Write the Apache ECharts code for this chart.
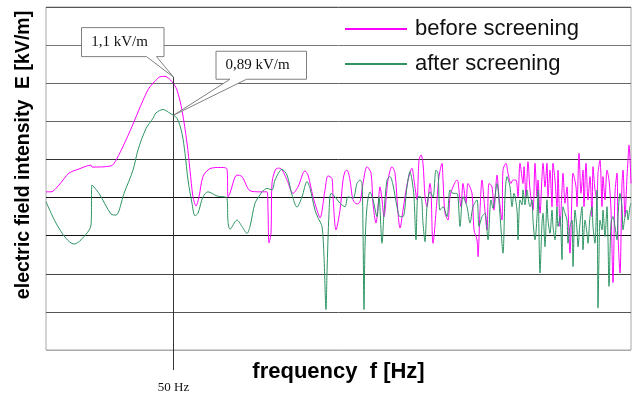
<!DOCTYPE html>
<html>
<head>
<meta charset="utf-8">
<script src="https://cdn.jsdelivr.net/npm/echarts@6/dist/echarts.min.js"></script>
<style>
html, body { margin: 0; padding: 0; background: #fff; }
#chart { width: 632px; height: 397px; }
</style>
</head>
<body>
<div id="chart"></div>
<script>
// field spectrum, frequency axis in relative units (0..585), field in grid units (0..9)
var beforeScreening = [[0,4.15],[5,4.15],[13,4.33],[23,4.64],[33,4.75],[45,4.85],[46,4.80],[65,4.83],[70,4.98],[80,5.51],[88,5.99],[97,6.55],[103,6.87],[110,7.08],[114,7.17],[119,7.18],[126,7.04],[131,6.82],[136,6.29],[141,5.43],[144,4.72],[147,4.02],[150,3.78],[153,4.02],[157,4.55],[164,4.76],[174,4.79],[181,4.75],[182,4.02],[184,4.12],[191,4.59],[196,4.55],[204,4.18],[214,4.15],[221,4.15],[222,3.67],[223,2.81],[225,3.07],[226,4.38],[231,4.77],[234,4.77],[241,4.46],[247,4.11],[252,4.28],[259,4.70],[262,4.59],[267,4.02],[271,3.67],[274,3.47],[279,4.20],[282,4.57],[286,4.50],[287,4.02],[290,3.15],[294,3.67],[297,4.46],[299,4.68],[301,4.72],[304,4.46],[307,3.94],[311,3.83],[314,3.89],[317,4.37],[321,4.81],[325,4.64],[327,3.85],[330,3.33],[332,3.76],[334,4.28],[336,3.94],[338,3.50],[342,4.46],[346,4.81],[349,4.64],[352,3.59],[354,3.20],[357,3.67],[359,4.02],[362,4.46],[366,4.77],[368,4.46],[371,3.94],[373,4.98],[375,5.12],[377,4.90],[379,4.02],[381,3.76],[384,4.37],[385,4.20],[387,2.80],[391,3.94],[393,4.55],[396,4.90],[397,4.46],[399,3.59],[402,3.41],[404,4.02],[407,4.28],[411,4.46],[412,4.42],[415,3.76],[417,4.37],[420,3.85],[422,4.37],[426,4.11],[428,3.15],[431,2.89],[432,2.45],[434,3.67],[436,4.46],[438,3.94],[441,3.15],[443,4.37],[446,4.28],[448,3.67],[451,4.59],[453,4.02],[456,3.41],[457,4.72],[460,4.90],[462,4.64],[465,4.37],[467,4.46],[470,4.46],[472,4.02],[474,4.90],[477,4.37],[478,4.81],[480,4.02],[482,4.94],[484,4.20],[487,3.67],[489,4.90],[491,4.02],[492,4.46],[494,3.59],[496,4.55],[497,4.90],[499,4.28],[501,4.90],[502,4.02],[504,4.72],[506,3.76],[507,4.90],[509,4.46],[511,3.76],[512,4.72],[514,3.24],[516,4.20],[517,4.64],[519,3.85],[521,4.28],[522,3.76],[524,2.54],[526,4.11],[527,4.64],[530,4.28],[531,3.76],[533,5.16],[535,4.11],[537,4.72],[538,3.76],[540,4.90],[542,3.94],[544,4.55],[546,3.50],[547,4.81],[549,4.20],[551,3.94],[552,4.64],[554,4.98],[556,3.76],[557,4.55],[559,3.94],[561,4.72],[563,4.46],[565,3.67],[567,1.77],[569,4.11],[571,4.64],[572,3.06],[574,2.02],[576,4.37],[577,4.72],[579,3.50],[581,4.55],[582,4.98],[583,5.38],[585,4.37]];

var afterScreening = [[0,3.89],[10,3.33],[20,2.93],[28,2.78],[35,2.89],[45,3.28],[46,4.33],[53,4.11],[65,3.57],[70,3.54],[78,4.11],[87,4.72],[92,5.25],[100,5.81],[107,6.08],[110,6.22],[117,6.31],[124,6.21],[131,6.08],[136,5.68],[139,5.16],[142,4.46],[146,3.85],[149,3.52],[152,3.59],[157,4.02],[162,4.15],[171,4.04],[181,3.98],[182,3.37],[184,3.17],[191,3.41],[196,3.24],[201,3.06],[204,3.24],[209,3.85],[214,4.07],[216,4.15],[221,4.24],[226,4.20],[229,4.46],[236,4.74],[241,4.59],[246,4.07],[251,3.75],[256,4.02],[261,4.42],[264,4.24],[269,3.67],[272,3.47],[276,3.24],[278,2.45],[280,1.06],[281,2.02],[283,3.59],[285,4.11],[289,4.02],[294,3.85],[299,3.76],[302,4.02],[307,3.98],[311,4.37],[314,4.46],[316,4.37],[317,3.15],[318,1.06],[319,2.71],[321,3.76],[324,4.15],[327,3.94],[331,3.50],[333,4.02],[336,2.80],[338,3.59],[341,4.46],[344,4.55],[347,4.33],[351,3.76],[354,3.50],[357,3.50],[361,4.28],[364,4.68],[366,4.46],[368,4.02],[370,2.89],[372,4.02],[375,4.02],[377,3.33],[379,2.84],[381,3.76],[384,4.15],[387,4.02],[390,4.72],[392,4.64],[394,3.67],[397,3.76],[401,3.50],[404,4.20],[407,4.11],[411,4.11],[414,3.24],[417,4.02],[421,3.76],[424,3.33],[427,3.76],[431,3.94],[433,3.24],[436,3.50],[439,3.59],[442,2.89],[445,3.94],[447,3.72],[451,4.37],[454,3.54],[457,2.54],[459,4.02],[461,4.55],[464,4.28],[466,3.76],[468,4.11],[471,3.67],[472,2.89],[474,3.94],[476,3.81],[477,4.20],[479,3.81],[481,4.20],[482,4.02],[484,3.76],[486,3.94],[487,3.41],[489,2.89],[491,3.50],[492,4.20],[494,2.02],[496,3.33],[497,3.59],[499,2.71],[501,3.94],[502,3.41],[504,3.06],[506,3.67],[507,3.24],[509,2.89],[511,3.76],[512,3.24],[514,3.50],[516,2.37],[517,3.76],[519,3.59],[521,3.41],[522,2.80],[524,3.24],[526,3.41],[527,2.19],[529,3.67],[531,3.15],[532,2.71],[534,3.33],[536,3.76],[537,2.63],[539,3.41],[541,3.06],[542,2.80],[544,3.50],[546,3.76],[547,3.24],[549,2.80],[551,4.20],[552,1.10],[553,2.45],[554,3.41],[556,3.15],[557,3.67],[559,2.98],[561,3.76],[562,2.89],[563,1.67],[565,3.33],[567,3.50],[569,3.24],[571,2.89],[572,3.50],[574,4.11],[576,3.76],[577,3.15],[579,3.50],[581,3.67],[582,3.41],[584,3.76],[585,3.85]];

var seriesNames = ['before screening', 'after screening'];
var f50Hz = 127.5;          // position of the 50 Hz marker
var peakBefore = 7.16;      // where the 1,1 kV/m callout points
var peakAfter = 6.16;       // where the 0,89 kV/m callout points
var peakLabels = ['1,1 kV/m', '0,89 kV/m'];

var chart = echarts.init(document.getElementById('chart'));
chart.setOption({
  animation: false,
  grid: { left: 46, right: 1, top: 7, bottom: 47, show: true, borderColor: '#a8a8a8', borderWidth: 1 },
  legend: {
    orient: 'vertical', left: 340, top: 13,
    itemWidth: 62, itemHeight: 2, itemGap: 13, icon: 'rect',
    textStyle: { fontFamily: 'Liberation Sans', fontSize: 22, color: '#111', padding: [0, 0, 0, 3] },
    data: seriesNames
  },
  xAxis: {
    type: 'value', min: 0, max: 585,
    name: 'frequency  f [Hz]', nameLocation: 'middle', nameGap: 11,
    nameTextStyle: { fontFamily: 'Liberation Sans', fontWeight: 'bold', fontSize: 22, color: '#000', verticalAlign: 'top' },
    axisLine: { show: false }, axisTick: { show: false }, axisLabel: { show: false }, splitLine: { show: false }
  },
  yAxis: {
    type: 'value', min: 0, max: 9, interval: 1,
    axisLine: { show: false }, axisTick: { show: false }, axisLabel: { show: false },
    splitLine: { lineStyle: { width: 1, color: ['#a8a8a8', '#555', '#444', '#111', '#111', '#333', '#666', '#666', '#777', '#555'] } }
  },
  series: [
    { name: seriesNames[0], type: 'line', data: beforeScreening, symbol: 'none', smooth: 0.3,
      lineStyle: { color: '#ff00ff', width: 1 }, itemStyle: { color: '#ff00ff' } },
    { name: seriesNames[1], type: 'line', data: afterScreening, symbol: 'none', smooth: 0.3,
      lineStyle: { color: '#2e9463', width: 1 }, itemStyle: { color: '#2e9463' } }
  ]
});

// annotations: 50 Hz marker and the two callouts, placed from the axes
var t1 = chart.convertToPixel({ gridIndex: 0 }, [f50Hz, peakBefore]);
var t2 = chart.convertToPixel({ gridIndex: 0 }, [f50Hz, peakAfter]);
var b0 = chart.convertToPixel({ gridIndex: 0 }, [f50Hz, 0]);

function rel(t, pts) {
  return pts.map(function (p) { return [t[0] + p[0], t[1] + p[1]]; });
}
var boxStyle = { fill: '#fff', stroke: '#808080', lineWidth: 1 };
var serif = { fontFamily: 'Liberation Serif', fontSize: 15, fill: '#111', align: 'center', verticalAlign: 'middle' };

chart.setOption({
  graphic: [
    { type: 'line', z: 100, shape: { x1: t1[0], y1: t1[1], x2: t1[0], y2: b0[1] + 20 },
      style: { stroke: '#333', lineWidth: 1 } },
    { type: 'text', z: 100, x: t1[0], y: b0[1] + 38,
      style: Object.assign({}, serif, { text: '50 Hz', fontSize: 13 }) },
    { type: 'polygon', z: 101,
      shape: { points: rel(t1, [[-92, -49.5], [-9.5, -49.5], [-9.5, -20.5], [-17, -20.5], [0, 0], [-27, -20.5], [-92, -20.5]]) },
      style: boxStyle },
    { type: 'text', z: 102, x: t1[0] - 54, y: t1[1] - 35, style: Object.assign({}, serif, { text: peakLabels[0] }) },
    { type: 'polygon', z: 101,
      shape: { points: rel(t2, [[42.5, -64], [133, -64], [133, -36], [73, -36], [0, 0], [56.5, -36], [42.5, -36]]) },
      style: boxStyle },
    { type: 'text', z: 102, x: t2[0] + 84, y: t2[1] - 50, style: Object.assign({}, serif, { text: peakLabels[1] }) },
    { type: 'text', z: 100, x: 23.5, y: 155, rotation: Math.PI / 2,
      style: { text: 'electric field intensity  E [kV/m]', fontFamily: 'Liberation Sans', fontWeight: 'bold',
               fontSize: 19.5, fill: '#000', align: 'center', verticalAlign: 'middle' } }
  ]
});
</script>
</body>
</html>
